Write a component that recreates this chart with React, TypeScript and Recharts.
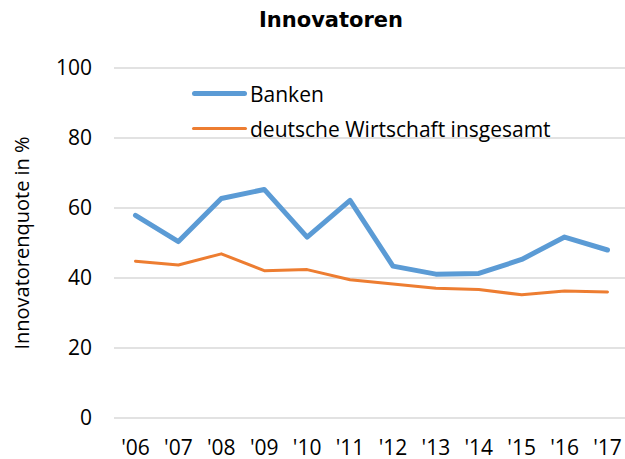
import { LineChart, Line, XAxis, YAxis, CartesianGrid, Legend } from 'recharts';

const years = ["'06", "'07", "'08", "'09", "'10", "'11", "'12", "'13", "'14", "'15", "'16", "'17"];
const banken = [57.9, 50.4, 62.7, 65.3, 51.7, 62.2, 43.4, 41.1, 41.3, 45.3, 51.7, 48.0];
const gesamt = [44.8, 43.7, 46.9, 42.1, 42.4, 39.5, 38.3, 37.1, 36.7, 35.2, 36.3, 36.0];
const yTicks = [0, 20, 40, 60, 80, 100];

const data = years.map((year, i) => ({ year, banken: banken[i], gesamt: gesamt[i] }));

const font = '"Open Sans", sans-serif';

const legendItems = [
    { label: 'Banken', color: '#5B9BD5', width: 5 },
    { label: 'deutsche Wirtschaft insgesamt', color: '#ED7D31', width: 3 },
];

function ChartLegend() {
    return (
        <div style={{ fontFamily: font, fontSize: 21, color: '#000' }}>
            {legendItems.map((item) => (
                <div key={item.label} style={{ display: 'flex', alignItems: 'center', height: 35 }}>
                    <div
                        style={{
                            width: 55,
                            height: item.width,
                            borderRadius: item.width / 2,
                            background: item.color,
                            marginRight: 3,
                        }}
                    />
                    <span>{item.label}</span>
                </div>
            ))}
        </div>
    );
}

export default function App() {
    return (
        <div style={{ position: 'absolute', left: 0, top: 0, width: 625, height: 459, overflow: 'hidden', background: '#fff' }}>
            <div
                style={{
                    position: 'absolute',
                    left: 0,
                    width: 662,
                    top: 8,
                    textAlign: 'center',
                    fontFamily: '"DejaVu Sans", sans-serif',
                    fontWeight: 'bold',
                    fontSize: 21,
                    color: '#000',
                }}
            >
                Innovatoren
            </div>
            <LineChart width={640} height={459} data={data} margin={{ top: 68, right: 11, left: 0, bottom: 11 }}>
                <CartesianGrid vertical={false} stroke="#D9D9D9" strokeWidth={1.5} />
                <XAxis
                    dataKey="year"
                    axisLine={false}
                    tickLine={false}
                    tickSize={0}
                    tickMargin={22}
                    height={30}
                    interval={0}
                    padding={{ left: 21.5, right: 21.5 }}
                    tick={{ fill: '#000', fontSize: 21, fontFamily: font }}
                />
                <YAxis
                    domain={[0, 100]}
                    ticks={yTicks}
                    axisLine={false}
                    tickLine={false}
                    tickSize={0}
                    tickMargin={22}
                    width={114}
                    tick={{ fill: '#000', fontSize: 21, fontFamily: font }}
                    label={{
                        value: 'Innovatorenquote in %',
                        angle: -90,
                        position: 'insideLeft',
                        offset: 22,
                        style: { textAnchor: 'middle', fill: '#000', fontSize: 20, fontFamily: font },
                    }}
                />
                <Legend
                    layout="horizontal"
                    verticalAlign="middle"
                    align="center"
                    content={<ChartLegend />}
                    wrapperStyle={{ position: 'absolute', left: 192, top: 76, width: 'auto' }}
                />
                <Line
                    dataKey="banken"
                    stroke="#5B9BD5"
                    strokeWidth={5}
                    dot={false}
                    strokeLinecap="round"
                    strokeLinejoin="round"
                    isAnimationActive={false}
                />
                <Line
                    dataKey="gesamt"
                    stroke="#ED7D31"
                    strokeWidth={3}
                    dot={false}
                    strokeLinecap="round"
                    strokeLinejoin="round"
                    isAnimationActive={false}
                />
            </LineChart>
        </div>
    );
}
